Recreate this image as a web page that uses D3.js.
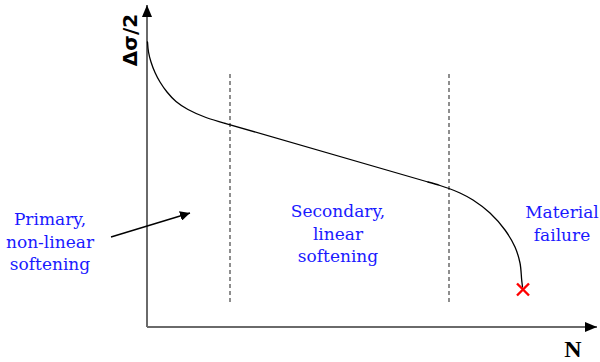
<!DOCTYPE html>
<html>
<head>
<meta charset="utf-8">
<script src="https://cdn.jsdelivr.net/npm/d3@7"></script>
<style>
  html, body { margin: 0; padding: 0; background: #fff; }
  svg { display: block; }
</style>
</head>
<body>
<svg id="chart" width="600" height="362"></svg>
<script>
// Schematic cyclic-softening curve: stress amplitude vs. number of cycles
const primaryCycles = [0.5, 1.5, 4, 8, 13, 20, 29, 41, 59, 78];
const primaryStress = [285, 275, 265, 254.5, 245, 235, 225.5, 217.5, 209.5, 203.7];
const secondaryCycles = [78, 281];
const secondaryStress = [203.7, 145];
const tertiaryCycles = [281, 293, 302, 313, 326, 343, 358, 368, 373, 374.7, 375.5];
const tertiaryStress = [145, 141.5, 138.5, 134, 127, 114, 97, 80, 64, 47, 40];

// Stage boundaries (vertical dashed lines)
const boundaryCycles = [83, 302];
const boundaryRange = [25, 256];

// Failure point
const failureCycles = [376];
const failureStress = [37.5];

// Stage annotations
const stageLabels = [
  { lines: ["Primary,", "non-linear", "softening"], n: -97, s: 102 },
  { lines: ["Secondary,", "linear", "softening"], n: 191, s: 110 },
  { lines: ["Material", "failure"], n: 415, s: 109 }
];
const pointerFrom = [-36, 90];
const pointerTo = [43, 114];

const yTitle = "Δσ/2";
const xTitle = "N";

const svg = d3.select("#chart");
const x = d3.scaleLinear().domain([0, 450]).range([147, 597]);
const y = d3.scaleLinear().domain([0, 322]).range([327, 5]);

const defs = svg.append("defs");
defs.append("marker")
  .attr("id", "head")
  .attr("viewBox", "0 0 10 10")
  .attr("refX", 10).attr("refY", 5)
  .attr("markerWidth", 10).attr("markerHeight", 10)
  .attr("markerUnits", "userSpaceOnUse")
  .attr("orient", "auto")
  .append("path").attr("d", "M0,0 L10,5 L0,10 Z").attr("fill", "#000");
defs.append("marker")
  .attr("id", "axhead")
  .attr("viewBox", "0 0 10 10")
  .attr("refX", 10).attr("refY", 5)
  .attr("markerWidth", 12).attr("markerHeight", 12)
  .attr("markerUnits", "userSpaceOnUse")
  .attr("orient", "auto")
  .append("path").attr("d", "M0,0.8 L10,5 L0,9.2 Z").attr("fill", "#000");

// Axes
svg.append("line")
  .attr("x1", x(0)).attr("y1", y(0)).attr("x2", x(0)).attr("y2", y(322))
  .attr("stroke", "#6a6a6a").attr("stroke-width", 2)
  .attr("marker-end", "url(#axhead)");
svg.append("line")
  .attr("x1", x(0)).attr("y1", y(0)).attr("x2", x(450)).attr("y2", y(0))
  .attr("stroke", "#6a6a6a").attr("stroke-width", 2)
  .attr("marker-end", "url(#axhead)");

// Stage boundaries
svg.selectAll("line.bound").data(boundaryCycles).enter().append("line")
  .attr("class", "bound")
  .attr("x1", d => x(d)).attr("x2", d => x(d))
  .attr("y1", y(boundaryRange[0])).attr("y2", y(boundaryRange[1]))
  .attr("stroke", "#444").attr("stroke-width", 1.2)
  .attr("stroke-dasharray", "4,3");

// Softening curve, drawn stage by stage
const zip = (a, b) => a.map((n, i) => [n, b[i]]);
const smooth = d3.line().x(d => x(d[0])).y(d => y(d[1])).curve(d3.curveCatmullRom.alpha(0.5));
const straight = d3.line().x(d => x(d[0])).y(d => y(d[1]));
[
  [smooth, zip(primaryCycles, primaryStress)],
  [straight, zip(secondaryCycles, secondaryStress)],
  [smooth, zip(tertiaryCycles, tertiaryStress)]
].forEach(([gen, pts]) => {
  svg.append("path")
    .attr("d", gen(pts))
    .attr("fill", "none").attr("stroke", "#000").attr("stroke-width", 1.3)
    .attr("stroke-linecap", "round");
});

// Failure mark
failureCycles.forEach((n, i) => {
  const cx = x(n), cy = y(failureStress[i]), r = 6;
  svg.append("path")
    .attr("d", `M${cx - r},${cy - r}L${cx + r},${cy + r}M${cx - r},${cy + r}L${cx + r},${cy - r}`)
    .attr("stroke", "#ff0000").attr("stroke-width", 2.4).attr("fill", "none");
});

// Stage labels
stageLabels.forEach(lbl => {
  const t = svg.append("text")
    .attr("x", x(lbl.n)).attr("y", y(lbl.s))
    .attr("text-anchor", "middle")
    .attr("font-family", "'DejaVu Serif', serif")
    .attr("font-size", 17)
    .attr("fill", "#1a1aff");
  lbl.lines.forEach((s, i) => {
    t.append("tspan").attr("x", x(lbl.n)).attr("dy", i === 0 ? 0 : 22.5).text(s);
  });
});

// Pointer arrow
svg.append("line")
  .attr("x1", x(pointerFrom[0])).attr("y1", y(pointerFrom[1]))
  .attr("x2", x(pointerTo[0])).attr("y2", y(pointerTo[1]))
  .attr("stroke", "#000").attr("stroke-width", 1.4)
  .attr("marker-end", "url(#head)");

// Axis titles
svg.append("text")
  .attr("transform", `translate(137,40) rotate(-90)`)
  .attr("text-anchor", "middle")
  .attr("font-family", "'DejaVu Sans', sans-serif")
  .attr("font-weight", "bold")
  .attr("font-size", 20)
  .attr("fill", "#000")
  .text(yTitle);
svg.append("text")
  .attr("x", 573).attr("y", 357)
  .attr("text-anchor", "middle")
  .attr("font-family", "'Liberation Serif', serif")
  .attr("font-weight", "bold")
  .attr("font-size", 24)
  .attr("fill", "#000")
  .text(xTitle);
</script>
</body>
</html>
